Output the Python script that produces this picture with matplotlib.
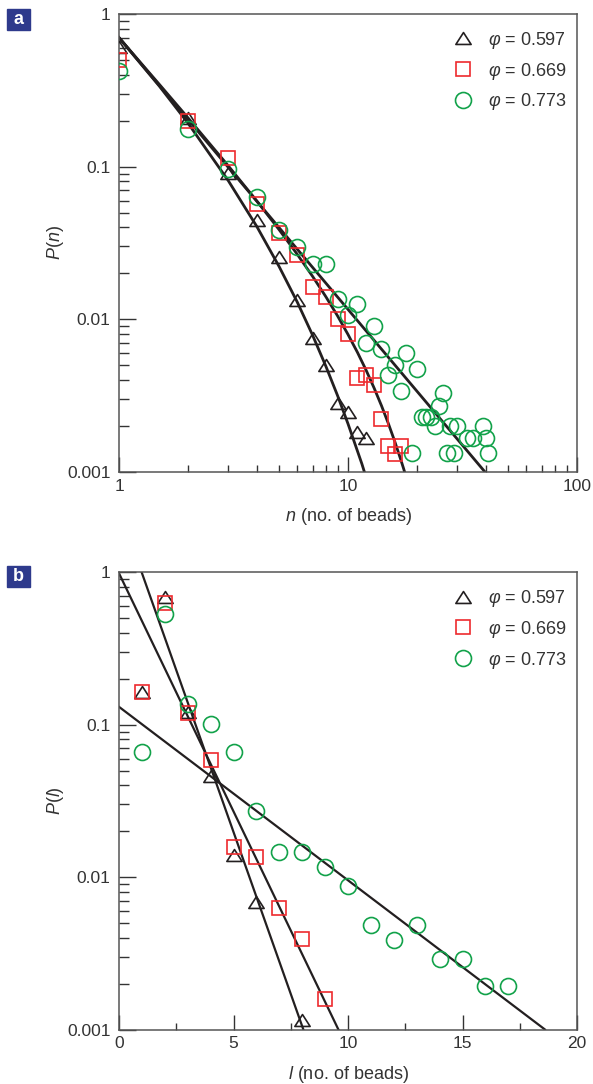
import matplotlib
matplotlib.use('Agg')
import matplotlib.pyplot as plt
from matplotlib import font_manager
from matplotlib.path import Path
from matplotlib.lines import Line2D
from matplotlib.patches import Rectangle
from matplotlib.ticker import LogLocator, MultipleLocator, NullFormatter, FixedLocator, FixedFormatter

# ---- data, panel a: P(n) vs cluster size n
phi_labels = ['0.597', '0.669', '0.773']

n_tri = [1, 2, 3, 4, 5, 6, 7, 8, 9, 10, 11, 12]
p_tri = [0.61, 0.207, 0.0905, 0.0448, 0.0257, 0.0134, 0.0076, 0.0050,
         0.00285, 0.00249, 0.00182, 0.00166]

n_sq = [1, 2, 3, 4, 5, 6, 7, 8, 9, 10, 11, 12, 13, 14, 15, 16, 17]
p_sq = [0.50, 0.199, 0.1135, 0.057, 0.0366, 0.0264, 0.0162, 0.0140, 0.0101,
        0.0080, 0.0041, 0.0043, 0.0037, 0.00223, 0.00149, 0.00131, 0.00149]

n_circ = [1, 2, 3, 4, 5, 6, 7, 8, 9, 10, 11, 12, 13, 14, 15, 16, 17, 18, 19,
          20, 21, 22, 23, 24, 25, 26, 27, 28, 29, 30, 33, 35, 39, 40, 41]
p_circ = [0.425, 0.177, 0.096, 0.063, 0.0385, 0.0299, 0.023, 0.023, 0.0136,
          0.0107, 0.0126, 0.0070, 0.0090, 0.0064, 0.0043, 0.0050, 0.0034,
          0.0060, 0.00133, 0.0047, 0.0023, 0.0023, 0.0023, 0.0020, 0.0027,
          0.0033, 0.00133, 0.0020, 0.00133, 0.0020, 0.00167, 0.00167,
          0.0020, 0.00167, 0.00133]

# fitted curves
fit_n_tri = [1, 1.5, 2, 3, 4, 5, 6, 7, 8, 9, 10, 11, 11.5, 12]
fit_p_tri = [0.700, 0.337, 0.193, 0.0810, 0.0405, 0.0222, 0.0130, 0.00789,
             0.00494, 0.00317, 0.00207, 0.00137, 0.00113, 0.00092]
fit_n_sq = [1, 1.5, 2, 3, 4, 5, 6, 7, 8, 9, 10, 11, 12, 13, 14, 15, 16, 17,
            17.5, 18]
fit_p_sq = [0.700, 0.346, 0.209, 0.1013, 0.0595, 0.0387, 0.0267, 0.01915,
            0.01408, 0.01054, 0.00796, 0.00607, 0.00464, 0.00355, 0.00272,
            0.00208, 0.001586, 0.001205, 0.00105, 0.000912]
fit_n_circ = [1, 40]
fit_p_circ = [0.70, 0.000985]

# ---- data, panel b: P(l) vs l
l_tri = [1, 2, 3, 4, 5, 6, 8]
pl_tri = [0.165, 0.685, 0.122, 0.046, 0.014, 0.0069, 0.00115]

l_sq = [1, 2, 3, 4, 5, 6, 7, 8, 9]
pl_sq = [0.165, 0.626, 0.12, 0.059, 0.0158, 0.0135, 0.0063, 0.0039, 0.00158]

l_circ = [1, 2, 3, 4, 5, 6, 7, 8, 9, 10, 11, 12, 13, 14, 15, 16, 17]
pl_circ = [0.0665, 0.53, 0.137, 0.101, 0.0665, 0.0273, 0.0146, 0.0146, 0.0117,
           0.00875, 0.00485, 0.00387, 0.00485, 0.00289, 0.00289, 0.00194,
           0.00194]

fit_l_tri = [0.99, 8.05]
fit_pl_tri = [1.0, 0.001]
fit_l_sq = [0, 9.58]
fit_pl_sq = [0.985, 0.001]
fit_l_circ = [0, 18.6]
fit_pl_circ = [0.131, 0.001]

# ---- style
names = {f.name for f in font_manager.fontManager.ttflist}
base_font = 'Liberation Sans Narrow' if 'Liberation Sans Narrow' in names else 'Liberation Sans'
plt.rcParams['font.family'] = [base_font, 'DejaVu Sans']
plt.rcParams['mathtext.fontset'] = 'custom'
plt.rcParams['mathtext.it'] = base_font + ':italic'
plt.rcParams['mathtext.rm'] = base_font
plt.rcParams['mathtext.default'] = 'it'

BLACK = '#231f20'
RED = '#ee2a2e'
GREEN = '#12a24a'
TXT = '#333333'
PANEL = '#2e3a8c'

tri = Path([(0, 0.78), (-1, -0.78), (1, -0.78), (0, 0.78)],
           [Path.MOVETO, Path.LINETO, Path.LINETO, Path.CLOSEPOLY])
styles = [
    dict(marker=tri, ms=11, mec=BLACK),
    dict(marker='s', ms=10, mec=RED),
    dict(marker='o', ms=11.5, mec=GREEN),
]

W, H = 593, 1084
fig = plt.figure(figsize=(W / 100, H / 100), dpi=100)


def style_axes(ax):
    for side in ['left', 'right', 'top', 'bottom']:
        ax.spines[side].set_color('#555555')
        ax.spines[side].set_linewidth(1.1)
    ax.tick_params(which='both', direction='in', top=False, right=False,
                   colors='#333333', labelcolor=TXT, labelsize=12.5)
    ax.tick_params(axis='y', which='major', length=12, width=1.0, pad=6)
    ax.tick_params(axis='y', which='minor', length=7, width=1.0)
    ax.tick_params(axis='x', which='major', length=10.5, width=1.0, pad=5)
    ax.tick_params(axis='x', which='minor', length=5, width=1.0)
    ax.set_ylim(0.001, 1)
    ax.set_yscale('log')
    ax.yaxis.set_major_locator(FixedLocator([0.001, 0.01, 0.1, 1]))
    ax.yaxis.set_major_formatter(FixedFormatter(['0.001', '0.01', '0.1', '1']))
    ax.yaxis.set_minor_locator(LogLocator(base=10, subs=range(2, 10)))
    ax.yaxis.set_minor_formatter(NullFormatter())


def add_legend(ax):
    handles = [Line2D([], [], ls='none', mfc='none', mew=1.2, **st) for st in styles]
    labels = [r'$\varphi$ = ' + s for s in phi_labels]
    ax.legend(handles, labels, loc='upper left', bbox_to_anchor=(0.731, 0.966),
              frameon=False, fontsize=13, handlelength=1.0, handletextpad=0.9,
              labelspacing=0.55, borderpad=0, borderaxespad=0, labelcolor=TXT)


def panel_tag(letter, top_px):
    fig.patches.append(Rectangle((7 / W, 1 - (top_px + 21) / H), 23 / W, 21 / H,
                                 transform=fig.transFigure, color=PANEL))
    fig.text(18.5 / W, 1 - (top_px + 10.5) / H, letter, color='white',
             fontweight='bold', fontsize=13, ha='center', va='center',
             family='Liberation Sans')


# ---- panel a
ax1 = fig.add_axes([119 / W, 1 - 472 / H, 458 / W, 458 / H])
style_axes(ax1)
ax1.set_xscale('log')
ax1.set_xlim(1, 100)
ax1.xaxis.set_major_locator(FixedLocator([1, 10, 100]))
ax1.xaxis.set_major_formatter(FixedFormatter(['1', '10', '100']))
ax1.xaxis.set_minor_locator(LogLocator(base=10, subs=range(2, 10)))
ax1.xaxis.set_minor_formatter(NullFormatter())

for xs, ys in [(fit_n_tri, fit_p_tri), (fit_n_sq, fit_p_sq), (fit_n_circ, fit_p_circ)]:
    ax1.plot(xs, ys, color=BLACK, lw=2.0, zorder=2)
for (xs, ys), st in zip([(n_tri, p_tri), (n_sq, p_sq), (n_circ, p_circ)], styles):
    ax1.plot(xs, ys, ls='none', mfc='none', mew=1.2, zorder=3, **st)

ax1.set_ylabel(r'$P$($n$)', fontsize=13, color=TXT, labelpad=1)
ax1.set_xlabel(r'$n$ (no. of beads)', fontsize=13, color=TXT, labelpad=9)
add_legend(ax1)
panel_tag('a', 9)

# ---- panel b
ax2 = fig.add_axes([119 / W, 1 - 1029.5 / H, 458 / W, 457.2 / H])
style_axes(ax2)
ax2.set_xlim(0, 20)
ax2.xaxis.set_major_locator(FixedLocator([0, 5, 10, 15, 20]))
ax2.xaxis.set_major_formatter(FixedFormatter(['0', '5', '10', '15', '20']))
ax2.xaxis.set_minor_locator(MultipleLocator(2.5))

for xs, ys in [(fit_l_tri, fit_pl_tri), (fit_l_sq, fit_pl_sq), (fit_l_circ, fit_pl_circ)]:
    ax2.plot(xs, ys, color=BLACK, lw=1.6, zorder=2)
for (xs, ys), st in zip([(l_tri, pl_tri), (l_sq, pl_sq), (l_circ, pl_circ)], styles):
    ax2.plot(xs, ys, ls='none', mfc='none', mew=1.2, zorder=3, **st)

ax2.set_ylabel(r'$P$($l$)', fontsize=13, color=TXT, labelpad=1)
ax2.set_xlabel(r'$l$ (no. of beads)', fontsize=13, color=TXT, labelpad=9)
add_legend(ax2)
panel_tag('b', 566)

fig.savefig('out.png', dpi=100)
